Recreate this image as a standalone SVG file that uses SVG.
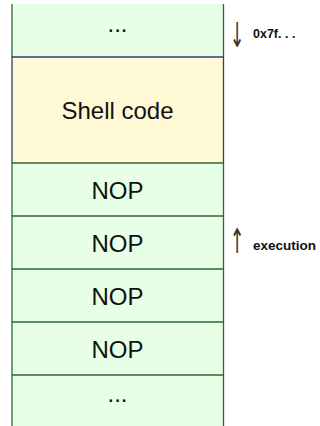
<svg xmlns="http://www.w3.org/2000/svg" width="320" height="426" viewBox="0 0 320 426">
<style>
.g{fill:#e6ffe6}
.y{fill:#fff9d6}
.gb{fill:none;stroke:#2f6a2f;stroke-width:1.3}
.yb{fill:none;stroke:#3a3a70;stroke-width:1.3}
.t{font-family:"Liberation Sans",Arial,sans-serif;font-size:24px;fill:#111;text-anchor:middle}
.l{font-family:"Liberation Sans",Arial,sans-serif;font-weight:bold;fill:#111}
.a{font-family:"DejaVu Sans",sans-serif;font-size:22px;fill:#333;text-anchor:middle}
</style>
<rect width="320" height="426" fill="#fff"/>
<g id="top">
<rect class="g" x="12" y="4" width="211.5" height="53"/>
<path class="gb" d="M12,4V57M223.5,4V57"/>
<text class="t" x="117.5" y="32">...</text>
</g>
<g id="shell">
<rect class="y" x="12" y="57" width="211.5" height="106"/>
<path class="yb" d="M12,163V57H223.5V163"/>
<text class="t" x="117.5" y="119">Shell code</text>
</g>
<g id="nop1">
<rect class="g" x="12" y="163" width="211.5" height="53"/>
<path class="gb" d="M12,216V163H223.5V216"/>
<text class="t" x="117.5" y="198.5">NOP</text>
</g>
<g id="nop2">
<rect class="g" x="12" y="216" width="211.5" height="53"/>
<path class="gb" d="M12,269V216H223.5V269"/>
<text class="t" x="117.5" y="251.5">NOP</text>
</g>
<g id="nop3">
<rect class="g" x="12" y="269" width="211.5" height="53"/>
<path class="gb" d="M12,322V269H223.5V322"/>
<text class="t" x="117.5" y="304.5">NOP</text>
</g>
<g id="nop4">
<rect class="g" x="12" y="322" width="211.5" height="53"/>
<path class="gb" d="M12,375V322H223.5V375"/>
<text class="t" x="117.5" y="357.5">NOP</text>
</g>
<g id="bottom">
<rect class="g" x="12" y="375" width="211.5" height="51"/>
<path class="gb" d="M12,426V375H223.5V426"/>
<text class="t" x="117.5" y="402">...</text>
</g>
<g id="labels">
<text class="a" transform="translate(237,46.6) scale(0.8,1.55)">↓</text>
<text class="l" x="253" y="37.5" font-size="12.5">0x7f<tspan letter-spacing="3.5">...</tspan></text>
<text class="a" transform="translate(237,253.4) scale(0.8,1.55)">↑</text>
<text class="l" x="253" y="250" font-size="13.5">execution</text>
</g>
</svg>
